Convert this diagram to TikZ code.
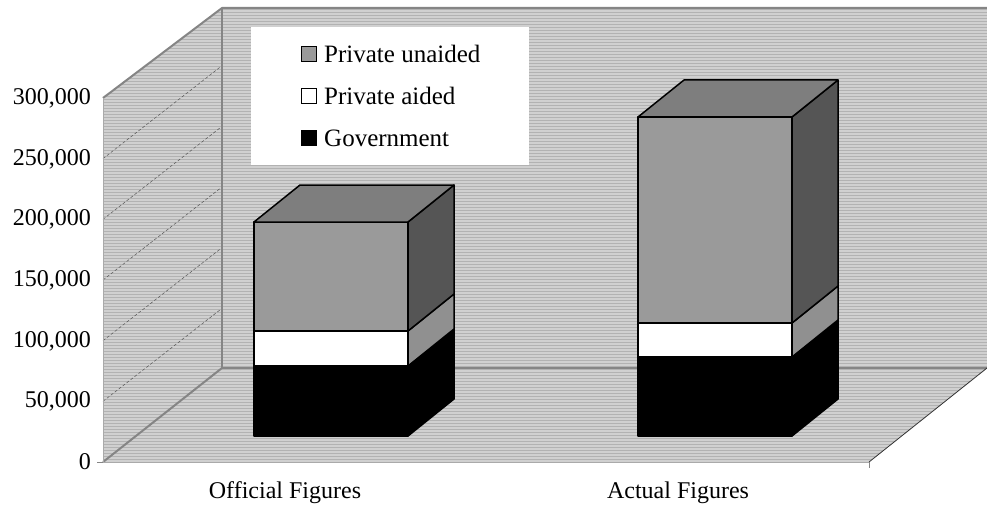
\documentclass[tikz,border=0pt]{standalone}
\usepackage{fontspec}
\setmainfont{Liberation Serif}
\usetikzlibrary{patterns}
\definecolor{wallc}{HTML}{D0D0D0}
\definecolor{wallln}{HTML}{B2B2B2}
\definecolor{edgec}{HTML}{858585}
\definecolor{frontg}{HTML}{9A9A9A}
\definecolor{topg}{HTML}{7E7E7E}
\definecolor{sideg}{HTML}{555555}
\definecolor{sidew}{HTML}{909090}
\definecolor{gridc}{HTML}{555555}
\begin{document}
\begin{tikzpicture}[x=1pt,y=-1pt,
  wall/.style={fill=wallc},
  wallpat/.style={pattern=horizontal lines,pattern color=wallln},
  wedge/.style={draw=edgec,line width=2pt,line join=round},
  barline/.style={draw=black,line width=1.5pt,line join=round},
  axlab/.style={font=\fontsize{24}{28}\selectfont,anchor=east,inner sep=0pt},
  catlab/.style={font=\fontsize{24}{28}\selectfont,anchor=center,inner sep=0pt},
  leglab/.style={font=\fontsize{25}{30}\selectfont,anchor=west,inner sep=0pt},
  legsq/.style={draw=black,line width=1pt,minimum size=15pt,inner sep=0pt}]
\useasboundingbox (0,0) rectangle (987,508);
\fill[white] (0,0) rectangle (987,508);
% walls
\coordinate (bwTL) at (222,8);
\coordinate (bwTR) at (987,8);
\coordinate (bwBR) at (987,368);
\coordinate (bwBL) at (222,368);
\coordinate (lwT) at (103,98);
\coordinate (lwB) at (103,462);
\coordinate (flR) at (869,462);
\foreach \s in {wall,wallpat}{
  \path[\s] (bwTL) -- (bwTR) -- (bwBR) -- (bwBL) -- cycle;
  \path[\s] (lwT) -- (bwTL) -- (bwBL) -- (lwB) -- cycle;
  \path[\s] (lwB) -- (bwBL) -- (bwBR) -- (flR) -- cycle;
}
% grid lines on the side wall
\foreach \v in {1,...,5}{
  \draw[gridc,densely dashed,line width=0.5pt] (103,{462-\v*60.67}) -- (222,{462-\v*60.67-93});
}
\draw[wedge] (lwT) -- (bwTL) -- (bwTR);
\draw[wedge] (bwTL) -- (bwBL) -- (bwBR);
\draw[wedge] (bwBL) -- (lwB);
\draw[edgec!70,line width=1pt] (lwT) -- (lwB) -- (flR);
\draw[black!80,line width=0.8pt] (flR) -- (bwBR);
\draw[edgec,line width=0.8pt] (flR) -- (869,468);
\draw[edgec,line width=0.8pt] (lwB) -- (97,462);
% legend
\node[fill=white,minimum width=278pt,minimum height=138pt,inner sep=0pt,anchor=north west] (legend) at (251,27) {};
\node[legsq,fill=frontg] (sq1) at (309,54) {};
\node[legsq,fill=white] (sq2) at (309,96) {};
\node[legsq,fill=black] (sq3) at (309,138) {};
\node[leglab] (l1) at (324,54) {Private unaided};
\node[leglab] (l2) at (324,96) {Private aided};
\node[leglab] (l3) at (324,138) {Government};
% bars: \bar{x0}{x1}{govtop}{aidtop}{top}
\newcommand{\mybar}[5]{%
  \def\dx{46}\def\dy{-37}%
  % government
  \path[barline,fill=black] (#1,436) rectangle (#2,#3);
  \path[barline,fill=black] (#2,436) -- (#2+\dx,436+\dy) -- (#2+\dx,#3+\dy) -- (#2,#3) -- cycle;
  % aided
  \path[barline,fill=white] (#1,#3) rectangle (#2,#4);
  \path[barline,fill=sidew] (#2,#3) -- (#2+\dx,#3+\dy) -- (#2+\dx,#4+\dy) -- (#2,#4) -- cycle;
  % unaided
  \path[barline,fill=frontg] (#1,#4) rectangle (#2,#5);
  \path[barline,fill=sideg] (#2,#4) -- (#2+\dx,#4+\dy) -- (#2+\dx,#5+\dy) -- (#2,#5) -- cycle;
  \path[barline,fill=topg] (#1,#5) -- (#1+\dx,#5+\dy) -- (#2+\dx,#5+\dy) -- (#2,#5) -- cycle;
}
\mybar{254}{408}{366}{331}{222}
\mybar{638}{792}{357}{323}{117}
% axis labels
\node[axlab] (y0) at (91,462) {0};
\node[axlab] (y1) at (91,401) {50,000};
\node[axlab] (y2) at (91,341) {100,000};
\node[axlab] (y3) at (91,280) {150,000};
\node[axlab] (y4) at (91,219) {200,000};
\node[axlab] (y5) at (91,159) {250,000};
\node[axlab] (y6) at (91,98) {300,000};
% category labels
\node[catlab] (c1) at (285,493) {Official Figures};
\node[catlab] (c2) at (678,493) {Actual Figures};
\end{tikzpicture}
\end{document}
